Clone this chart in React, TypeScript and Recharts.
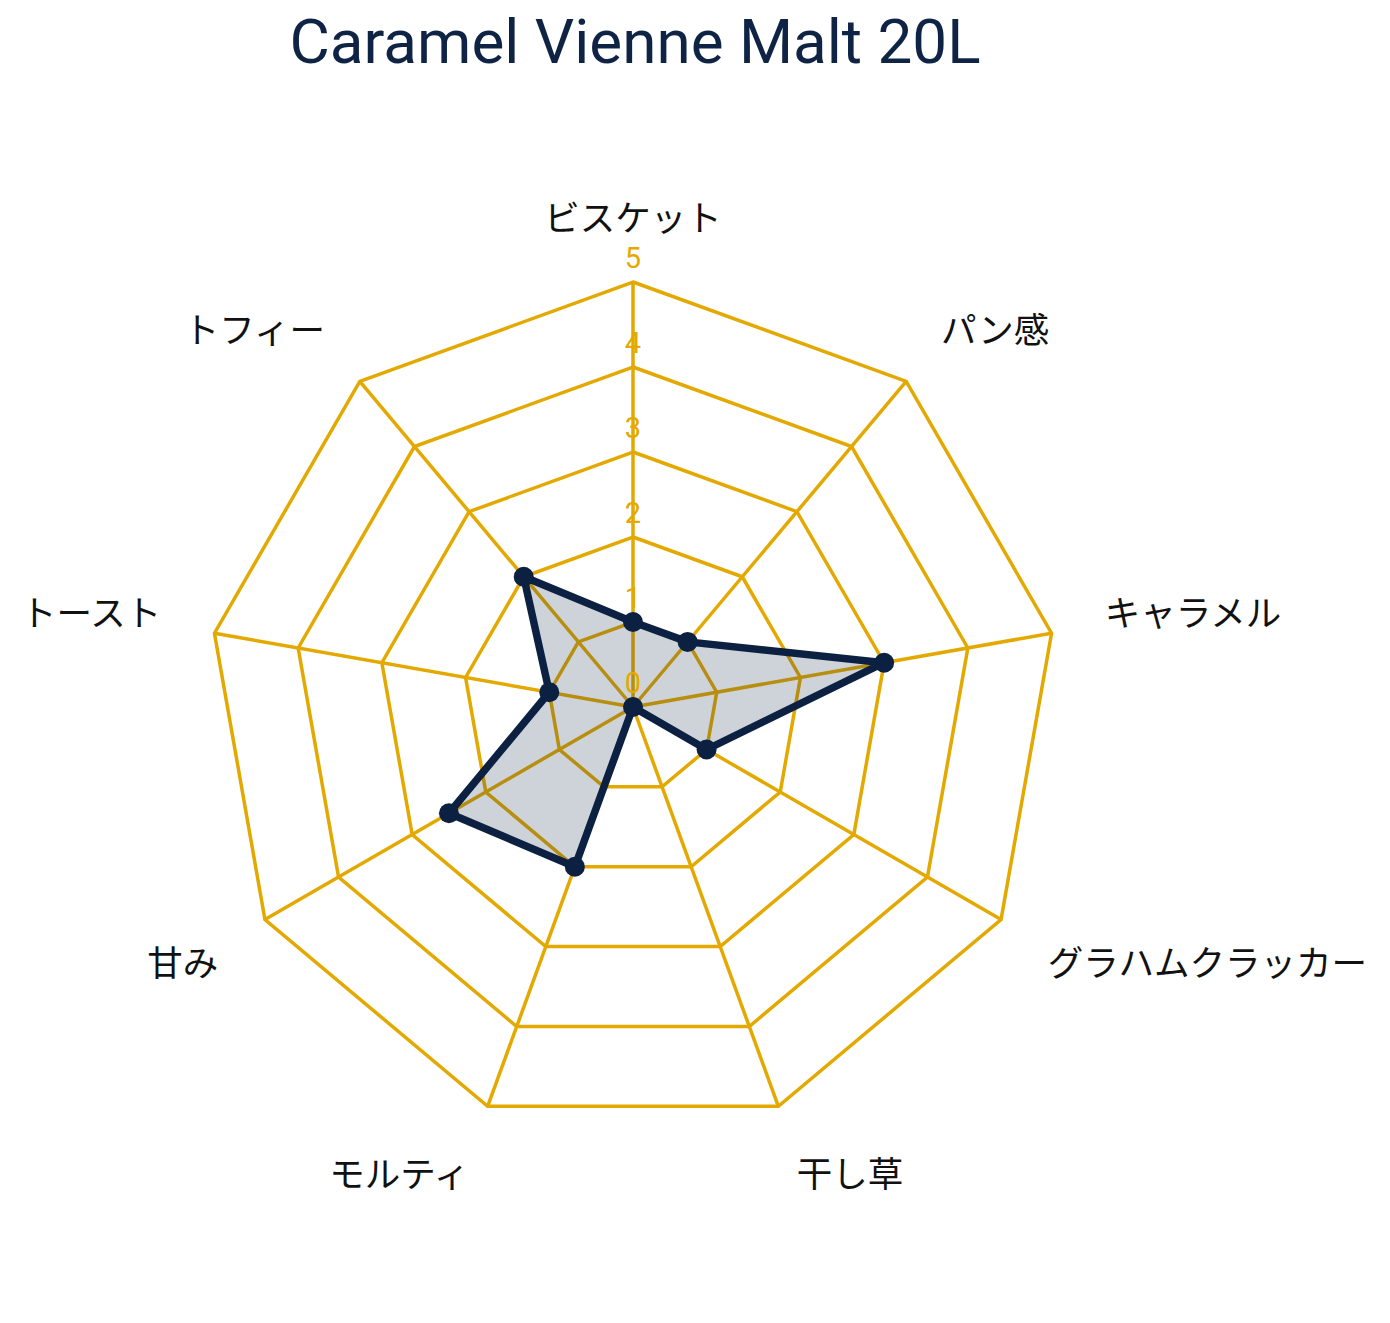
import { RadarChart, Radar, PolarGrid, PolarAngleAxis, PolarRadiusAxis } from 'recharts';

const categories = ['ビスケット', 'パン感', 'キャラメル', 'グラハムクラッカー', '干し草', 'モルティ', '甘み', 'トースト', 'トフィー'];
const scores = [1, 1, 3, 1, 0, 2, 2.5, 1, 2];
const radiusTicks = [0, 1, 2, 3, 4, 5];

const GOLD = '#E3A900';
const NAVY = '#0C2142';
const CX = 633;
const CY = 707;
const R = 425;

const data = categories.map((name, i) => ({ name, value: scores[i] }));

// category labels pushed further out than recharts' default tick offset
const AngleTick = ({ x, y, payload }: any) => {
  const dx = x - CX;
  const dy = y - CY;
  const len = Math.sqrt(dx * dx + dy * dy) || 1;
  const nx = dx / len;
  const ny = dy / len;
  const tx = CX + nx * 479;
  const ty = CY + ny * 479 + (ny < 0 ? -13 : 14);
  const anchor = Math.abs(nx) < 0.02 ? 'middle' : nx > 0 ? 'start' : 'end';
  return (
    <text
      x={tx}
      y={ty}
      textAnchor={anchor}
      dominantBaseline="central"
      fill="#111111"
      fontSize={35.5}
      fontFamily='"Noto Sans CJK JP", "Noto Sans", sans-serif'
    >
      {payload.value}
    </text>
  );
};

const RadiusTick = ({ x, y, payload }: any) => (
  <text
    x={x}
    y={y - 24}
    textAnchor="middle"
    dominantBaseline="central"
    fill={GOLD}
    fontSize={29}
    fontFamily="Roboto, sans-serif"
  >
    {payload.value}
  </text>
);

// polygon + markers drawn from the points recharts computes
const RadarShape = ({ points }: any) => {
  const pts = (points || []).map((p: any) => `${p.x},${p.y}`).join(' ');
  return (
    <g>
      <polygon points={pts} fill={NAVY} fillOpacity={0.2} stroke={NAVY} strokeWidth={7.5} strokeLinejoin="round" />
      {(points || []).map((p: any, i: number) => (
        <circle key={i} cx={p.x} cy={p.y} r={10} fill={NAVY} />
      ))}
    </g>
  );
};

export default function App() {
  return (
    <div style={{ position: 'absolute', left: 0, top: 0, width: 1390, height: 1323, background: '#fff' }}>
      <div
        style={{
          position: 'absolute',
          left: 0,
          width: 1270,
          top: 6,
          textAlign: 'center',
          fontFamily: 'Roboto, sans-serif',
          fontSize: 62,
          lineHeight: '72px',
          color: '#0F2445',
        }}
      >
        Caramel Vienne Malt 20L
      </div>
      <RadarChart
        width={1390}
        height={1323}
        cx={CX}
        cy={CY}
        outerRadius={R}
        data={data}
        startAngle={90}
        endAngle={-270}
        margin={{ top: 0, right: 0, bottom: 0, left: 0 }}
      >
        <PolarGrid stroke={GOLD} strokeWidth={3.5} gridType="polygon" />
        <PolarAngleAxis dataKey="name" tick={<AngleTick />} tickLine={false} axisLine={false} />
        <PolarRadiusAxis
          angle={90}
          domain={[0, 5]}
          ticks={radiusTicks as any}
          tickCount={6}
          tick={<RadiusTick />}
          axisLine={false}
          tickLine={false}
        />
        <Radar
          dataKey="value"
          stroke={NAVY}
          fill={NAVY}
          shape={<RadarShape />}
          isAnimationActive={false}
        />
      </RadarChart>
    </div>
  );
}
